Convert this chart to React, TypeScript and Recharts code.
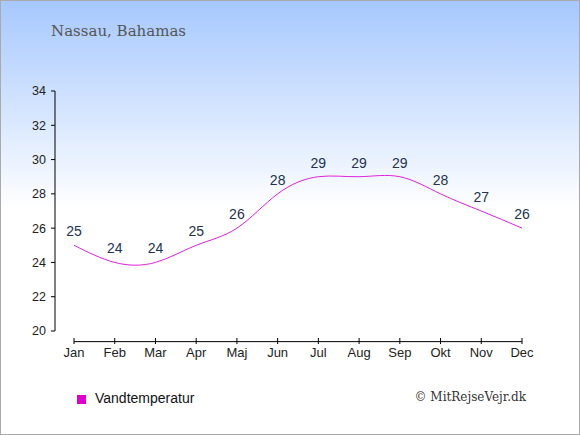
import { LineChart, Line, XAxis, YAxis, LabelList, ReferenceLine } from "recharts";

const months = ["Jan", "Feb", "Mar", "Apr", "Maj", "Jun", "Jul", "Aug", "Sep", "Okt", "Nov", "Dec"];
const waterTemp = [25, 24, 24, 25, 26, 28, 29, 29, 29, 28, 27, 26];
const yTicks = [20, 22, 24, 26, 28, 30, 32, 34];

const data = months.map((month, i) => ({ month, temp: waterTemp[i] }));

const axisColor = "#000";
const labelColor = "#22324f";
const lineColor = "#dd22dd";
const sans = "'Liberation Sans', Arial, sans-serif";

function MonthTick(props: any) {
  const { x, y, payload } = props;
  return (
    <g>
      <line x1={x} x2={x} y1={y + 7} y2={y + 13} stroke={axisColor} />
      <text x={x} y={y + 26} textAnchor="middle" fontSize={13} fontFamily={sans} fill="#222">
        {payload.value}
      </text>
    </g>
  );
}

export default function App() {
  return (
    <div
      style={{
        position: "absolute",
        left: 0,
        top: 0,
        width: 580,
        height: 435,
        boxSizing: "border-box",
        border: "1px solid #aaaaaa",
        background: "linear-gradient(to bottom, #a6c8fe 0%, #ffffff 48%, #ffffff 100%)",
        overflow: "hidden",
      }}
    >
      <div
        style={{
          position: "absolute",
          left: 50,
          top: 21,
          fontFamily: "'DejaVu Serif', serif",
          fontSize: 15,
          color: "#555",
        }}
      >
        Nassau, Bahamas
      </div>
      <div style={{ position: "absolute", left: -1, top: -1 }}>
        <LineChart
          width={580}
          height={435}
          data={data}
          margin={{ top: 91, right: 58, bottom: 74, left: 0 }}
        >
          <XAxis
            dataKey="month"
            axisLine={false}
            tickLine={false}
            tickSize={0}
            tickMargin={0}
            interval={0}
            height={30}
            padding={{ left: 19, right: 0 }}
            tick={<MonthTick />}
          />
          <YAxis
            domain={[20, 34]}
            ticks={yTicks}
            width={55}
            stroke={axisColor}
            tickSize={4}
            tickMargin={5}
            tick={{ fontSize: 12.5, fill: "#222", fontFamily: sans }}
          />
          <ReferenceLine
            segment={[
              { x: "Jan", y: 19.38 },
              { x: "Dec", y: 19.38 },
            ]}
            stroke={axisColor}
            ifOverflow="visible"
          />
          <Line
            type="natural"
            dataKey="temp"
            stroke={lineColor}
            strokeWidth={1}
            dot={false}
            activeDot={false}
            isAnimationActive={false}
          >
            <LabelList
              dataKey="temp"
              position="top"
              offset={9}
              fontSize={14}
              fill={labelColor}
              fontFamily={sans}
            />
          </Line>
        </LineChart>
      </div>
      <div
        style={{
          position: "absolute",
          left: 76,
          top: 394,
          width: 9,
          height: 9,
          background: "#dd00cc",
        }}
      />
      <div
        style={{
          position: "absolute",
          left: 94,
          top: 389,
          fontFamily: sans,
          fontSize: 14,
          color: "#111",
        }}
      >
        Vandtemperatur
      </div>
      <div
        style={{
          position: "absolute",
          right: 53,
          top: 389,
          fontFamily: "'DejaVu Serif', serif",
          fontSize: 12,
          color: "#333",
        }}
      >
        © MitRejseVejr.dk
      </div>
    </div>
  );
}
